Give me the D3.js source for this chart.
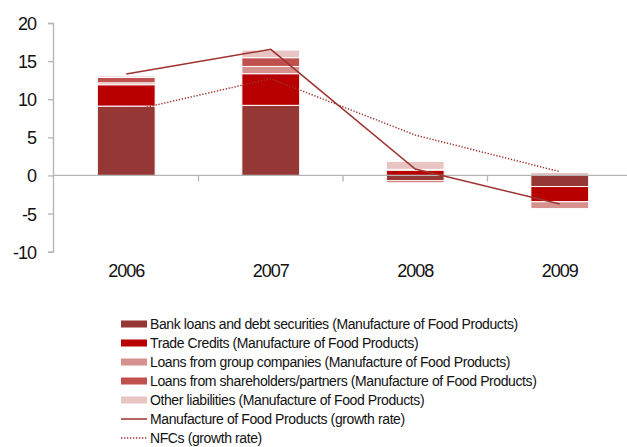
<!DOCTYPE html>
<html>
<head>
<meta charset="utf-8">
<script src="https://cdn.jsdelivr.net/npm/d3@7"></script>
<style>
  body { margin: 0; background: #fff; }
  svg { display: block; font-family: "Liberation Sans", Arial, sans-serif; }
</style>
</head>
<body>
<svg id="chart" width="627" height="447"></svg>
<script>
// data
let years = ['2006', '2007', '2008', '2009'];

let bankLoans    = [9.1, 9.2, -0.7, -1.45];
let tradeCredits = [2.8, 4.15, 0.7, -2.0];
let groupLoans   = [0.25, 0.95, 0.1, -0.9];
let shareholderLoans = [0.7, 1.15, -0.25, 0];
let otherLiabilities = [0.2, 1.0, 1.05, 0.4];

let foodGrowth = [13.3, 16.55, 0.85, -3.75];
let nfcGrowth  = [8.35, 12.7, 5.3, 0.5];

let yTicks = [-10, -5, 0, 5, 10, 15, 20];

let seriesNames = [
  'Bank loans and debt securities (Manufacture of Food Products)',
  'Trade Credits (Manufacture of Food Products)',
  'Loans from group companies (Manufacture of Food Products)',
  'Loans from shareholders/partners (Manufacture of Food Products)',
  'Other liabilities (Manufacture of Food Products)'
];
let lineNames = [
  'Manufacture of Food Products (growth rate)',
  'NFCs (growth rate)'
];

let barColors = ['#953735', '#b80000', '#d6918e', '#c0504d', '#e8c4c3'];
let lineColor = '#9e3230';
let axisColor = '#b4b4b4';

let svg = d3.select('#chart');

let x = d3.scaleBand()
  .domain(years)
  .range([54, 632])
  .paddingInner(0.6)
  .paddingOuter(0.3);

let y = d3.scaleLinear()
  .domain([-10, 20])
  .range([251.7, 23]);

// build stack table
let seriesData = [bankLoans, tradeCredits, groupLoans, shareholderLoans, otherLiabilities];
let keys = seriesData.map(function (d, i) { return 's' + i; });
let table = years.map(function (yr, j) {
  let row = { year: yr };
  keys.forEach(function (k, i) { row[k] = seriesData[i][j]; });
  return row;
});

let stacked = d3.stack()
  .keys(keys)
  .offset(d3.stackOffsetDiverging)(table);

// y axis
let yAxis = d3.axisLeft(y)
  .tickValues(yTicks)
  .tickSize(5)
  .tickPadding(12)
  .tickFormat(function (d) { return String(d); });

let yG = svg.append('g')
  .attr('transform', 'translate(53,0)')
  .call(yAxis);
yG.select('.domain').attr('stroke', axisColor).attr('stroke-width', 1.3);
yG.selectAll('.tick line').attr('stroke', axisColor).attr('stroke-width', 1.3);
yG.selectAll('.tick text')
  .attr('fill', '#111')
  .style('font-size', '18px')
  .style('letter-spacing', '-1px')
  .attr('dy', '0.36em');

// bars
let layers = svg.append('g')
  .selectAll('g')
  .data(stacked)
  .join('g')
  .attr('fill', function (d, i) { return barColors[i]; });

layers.selectAll('rect')
  .data(function (d) { return d; })
  .join('rect')
  .attr('x', function (d) { return x(d.data.year); })
  .attr('width', x.bandwidth())
  .attr('y', function (d) { return y(Math.max(d[0], d[1])); })
  .attr('height', function (d) { return Math.abs(y(d[0]) - y(d[1])); })
  .attr('stroke', '#fff')
  .attr('stroke-width', 1);

// zero axis with category boundary ticks
let zeroG = svg.append('g');
zeroG.append('line')
  .attr('x1', 53).attr('x2', 627)
  .attr('y1', y(0)).attr('y2', y(0))
  .attr('stroke', axisColor)
  .attr('stroke-width', 1.3);

let bounds = years.map(function (d) { return x(d) - x.step() * x.paddingOuter(); });
zeroG.selectAll('.bound')
  .data(bounds.slice(1))
  .join('line')
  .attr('class', 'bound')
  .attr('x1', function (d) { return d; })
  .attr('x2', function (d) { return d; })
  .attr('y1', y(0))
  .attr('y2', y(0) + 6)
  .attr('stroke', axisColor)
  .attr('stroke-width', 1.3);

// category labels at the bottom
let xAxis = d3.axisBottom(x)
  .tickSize(0)
  .tickPadding(25);
let xG = svg.append('g')
  .attr('transform', 'translate(0,' + y(-10) + ')')
  .call(xAxis);
xG.select('.domain').remove();
xG.selectAll('.tick text')
  .attr('fill', '#111')
  .style('font-size', '18px')
  .style('letter-spacing', '-1px')
  .attr('dy', '0');

// lines
let line = d3.line()
  .x(function (d, i) { return x(years[i]) + x.bandwidth() / 2; })
  .y(function (d) { return y(d); });

svg.append('path')
  .datum(nfcGrowth)
  .attr('d', line)
  .attr('fill', 'none')
  .attr('stroke', lineColor)
  .attr('stroke-width', 1.5)
  .attr('stroke-dasharray', '1.3,1.7');

svg.append('path')
  .datum(foodGrowth)
  .attr('d', line)
  .attr('fill', 'none')
  .attr('stroke', lineColor)
  .attr('stroke-width', 1.5);

// legend
let legendTop = 324,
    legendStep = 19,
    swatchX = 121,
    swatchW = 26,
    textX = 150;

let legend = svg.append('g').attr('class', 'legend');

let barItems = legend.selectAll('.bar-item')
  .data(seriesNames)
  .join('g')
  .attr('class', 'bar-item')
  .attr('transform', function (d, i) { return 'translate(0,' + (legendTop + i * legendStep) + ')'; });

barItems.append('rect')
  .attr('x', swatchX)
  .attr('y', -3.5)
  .attr('width', swatchW)
  .attr('height', 7)
  .attr('fill', function (d, i) { return barColors[i]; });

let lineItems = legend.selectAll('.line-item')
  .data(lineNames)
  .join('g')
  .attr('class', 'line-item')
  .attr('transform', function (d, i) {
    return 'translate(0,' + (legendTop + (seriesNames.length + i) * legendStep) + ')';
  });

lineItems.append('line')
  .attr('x1', swatchX)
  .attr('x2', swatchX + swatchW)
  .attr('y1', 0)
  .attr('y2', 0)
  .attr('stroke', lineColor)
  .attr('stroke-width', 1.5)
  .attr('stroke-dasharray', function (d, i) { return i === 1 ? '1.3,1.7' : null; });

legend.selectAll('g').append('text')
  .attr('x', textX)
  .attr('y', 5)
  .attr('fill', '#111')
  .style('font-size', '14px')
  .style('letter-spacing', '-0.4px')
  .text(function (d) { return d; });
</script>
</body>
</html>
